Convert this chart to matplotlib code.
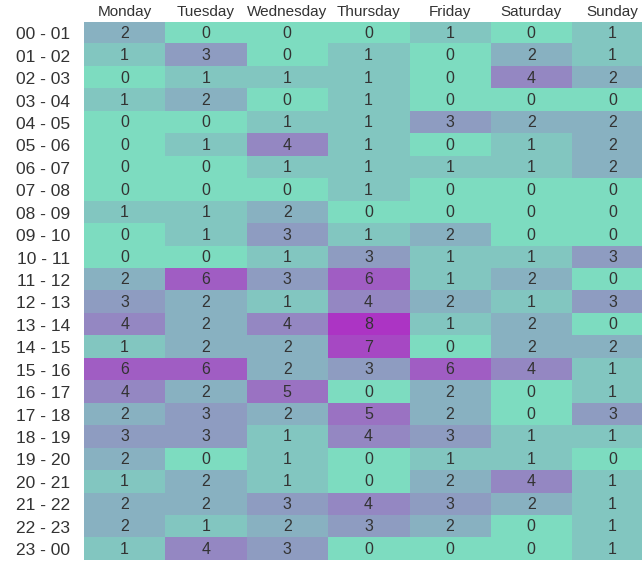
import matplotlib
matplotlib.use("Agg")
import matplotlib.pyplot as plt
import numpy as np
from matplotlib.colors import LinearSegmentedColormap

days = ["Monday", "Tuesday", "Wednesday", "Thursday", "Friday", "Saturday", "Sunday"]
hours = ["00 - 01", "01 - 02", "02 - 03", "03 - 04", "04 - 05", "05 - 06", "06 - 07",
         "07 - 08", "08 - 09", "09 - 10", "10 - 11", "11 - 12", "12 - 13", "13 - 14",
         "14 - 15", "15 - 16", "16 - 17", "17 - 18", "18 - 19", "19 - 20", "20 - 21",
         "21 - 22", "22 - 23", "23 - 00"]

monday    = [2, 1, 0, 1, 0, 0, 0, 0, 1, 0, 0, 2, 3, 4, 1, 6, 4, 2, 3, 2, 1, 2, 2, 1]
tuesday   = [0, 3, 1, 2, 0, 1, 0, 0, 1, 1, 0, 6, 2, 2, 2, 6, 2, 3, 3, 0, 2, 2, 1, 4]
wednesday = [0, 0, 1, 0, 1, 4, 1, 0, 2, 3, 1, 3, 1, 4, 2, 2, 5, 2, 1, 1, 1, 3, 2, 3]
thursday  = [0, 1, 1, 1, 1, 1, 1, 1, 0, 1, 3, 6, 4, 8, 7, 3, 0, 5, 4, 0, 0, 4, 3, 0]
friday    = [1, 0, 0, 0, 3, 0, 1, 0, 0, 2, 1, 1, 2, 1, 0, 6, 2, 2, 3, 1, 2, 3, 2, 0]
saturday  = [0, 2, 4, 0, 2, 1, 1, 0, 0, 0, 1, 2, 1, 2, 2, 4, 0, 0, 1, 1, 4, 2, 0, 0]
sunday    = [1, 1, 2, 0, 2, 2, 2, 0, 0, 0, 3, 0, 3, 0, 2, 1, 1, 3, 1, 0, 1, 1, 1, 1]

data = np.array([monday, tuesday, wednesday, thursday, friday, saturday, sunday]).T

plt.rcParams['font.family'] = ['Liberation Sans', 'DejaVu Sans']

cmap = LinearSegmentedColormap.from_list("tm", ["#7ddcc0", "#ac34c4"])

W, H = 642, 561
fig = plt.figure(figsize=(W / 100, H / 100), dpi=100)
left, top = 84, 22
cw = 81.3
rh = 22.43
ax = fig.add_axes([left / W, 1 - (top + rh * 24) / H, cw * 7 / W, rh * 24 / H])
ax.imshow(data, cmap=cmap, vmin=0, vmax=8, aspect='auto', interpolation='nearest')

for i in range(data.shape[0]):
    for j in range(data.shape[1]):
        ax.text(j, i, str(data[i, j]), ha='center', va='center', fontsize=11.5, color='#333333')

ax.set_xticks(range(7))
ax.set_xticklabels(days, fontsize=11, color='#333333')
ax.xaxis.tick_top()
ax.set_yticks(range(24))
ax.set_yticklabels(hours, fontsize=12.5, color='#333333')
ax.tick_params(axis='x', length=0, pad=2)
ax.tick_params(axis='y', length=0, pad=10)
for s in ax.spines.values():
    s.set_visible(False)

fig.savefig("out.png", dpi=100)
